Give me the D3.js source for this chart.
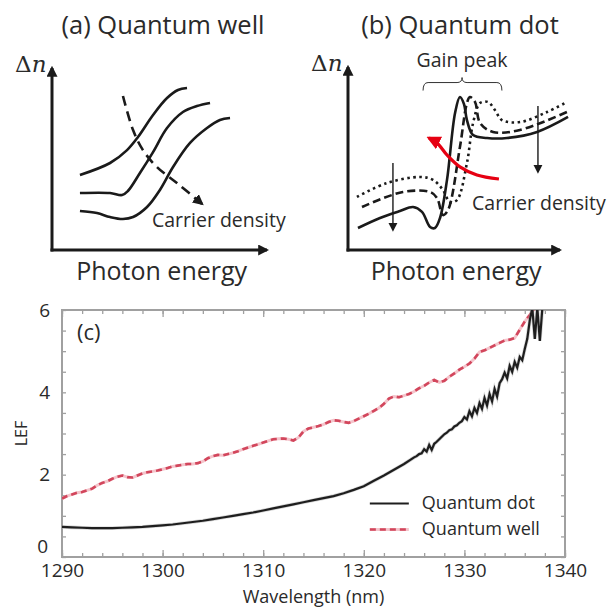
<!DOCTYPE html>
<html>
<head>
<meta charset="utf-8">
<script src="https://cdn.jsdelivr.net/npm/d3@7"></script>
<style>
  body { margin: 0; background: #fff; }
  text { font-family: "Open Sans", "Noto Sans", sans-serif; fill: #2a2a2a; }
</style>
</head>
<body>
<svg id="fig" width="612" height="609"></svg>
<script>
// ---- panel (c) data: LEF vs wavelength ----
var qdWave = [1290,1291,1292,1293,1294,1295,1296,1297,1298,1299,1300,1301,1302,1303,1304,1305,1306,1307,1308,1309,
  1310,1311,1312,1313,1314,1315,1316,1317,1318,1319,1320,1321,1322,1323,1324,1325,
  1325.25,1325.5,1325.75,1326,1326.25,1326.5,1326.75,1327,1327.25,1327.5,1327.75,1328,1328.25,1328.5,1328.75,
  1329,1329.25,1329.5,1329.75,1330,1330.25,1330.5,1330.75,1331,1331.25,1331.5,1331.75,1332,1332.25,1332.5,1332.75,
  1333,1333.25,1333.5,1333.75,1334,1334.25,1334.5,1334.75,1335,1335.25,1335.5,1335.75,1336,1336.25,1336.5,1336.75,
  1337,1337.25,1337.5,1337.75,1338];
var qdLEF = [0.73,0.72,0.71,0.70,0.70,0.70,0.71,0.72,0.73,0.75,0.77,0.79,0.82,0.85,0.88,0.92,0.96,1.00,1.04,1.08,
  1.13,1.18,1.23,1.28,1.33,1.38,1.43,1.48,1.55,1.63,1.72,1.85,1.98,2.12,2.26,2.42,
  2.45,2.50,2.52,2.62,2.56,2.72,2.60,2.75,2.80,2.86,2.92,2.98,3.02,3.08,3.10,
  3.17,3.20,3.26,3.30,3.40,3.34,3.54,3.42,3.62,3.50,3.74,3.60,3.86,3.68,3.96,3.78,
  4.08,3.90,4.22,4.32,4.48,4.34,4.64,4.50,4.74,4.60,4.86,4.78,5.05,5.30,5.75,6.05,
  5.30,6.05,5.25,6.05,6.10];

var qwWave = [1290,1290.5,1291,1291.5,1292,1292.5,1293,1293.5,1294,1294.5,1295,1295.5,1296,1296.5,1297,1297.5,
  1298,1298.5,1299,1299.5,1300,1300.5,1301,1301.5,1302,1302.5,1303,1303.5,1304,1304.5,1305,1305.5,1306,1306.5,
  1307,1307.5,1308,1308.5,1309,1309.5,1310,1310.5,1311,1311.5,1312,1312.5,1313,1313.5,1314,1314.5,1315,1315.5,
  1316,1316.5,1317,1317.5,1318,1318.5,1319,1319.5,1320,1320.5,1321,1321.5,1322,1322.5,1323,1323.5,1324,1324.5,
  1325,1325.5,1326,1326.5,1327,1327.5,1328,1328.5,1329,1329.5,1330,1330.5,1331,1331.5,1332,1332.5,1333,1333.5,
  1334,1334.5,1335,1335.5,1336,1336.5,1337];
var qwLEF = [1.42,1.48,1.52,1.56,1.58,1.62,1.66,1.74,1.80,1.84,1.90,1.95,1.98,1.94,1.93,1.98,
  2.03,2.06,2.08,2.10,2.13,2.16,2.20,2.22,2.24,2.26,2.26,2.28,2.32,2.40,2.45,2.48,2.47,2.50,
  2.53,2.57,2.62,2.66,2.70,2.74,2.78,2.82,2.86,2.87,2.88,2.86,2.83,2.90,3.05,3.12,3.15,3.18,
  3.22,3.28,3.32,3.31,3.28,3.26,3.30,3.36,3.42,3.48,3.55,3.62,3.72,3.85,3.90,3.88,3.92,3.96,
  4.02,4.10,4.16,4.24,4.30,4.24,4.28,4.38,4.46,4.55,4.62,4.70,4.82,4.98,5.02,5.08,5.14,5.20,
  5.26,5.28,5.32,5.52,5.72,5.88,6.05];

var xTicks = [1290,1300,1310,1320,1330,1340];
var yTicks = [0,2,4,6];
var legendNames = ["Quantum dot","Quantum well"];

// ---- panels (a),(b): schematic curves in relative units (0-100 along each axis) ----
var qwCurve1 = [[13,41.2],[27,47.8],[34.9,54.9],[40,62.1],[47,74.2],[53.5,83.5],[58.6,87.9],[62.8,89]];
var qwCurve2 = [[13,31.3],[27,31.3],[32.6,30.2],[35.3,32.4],[40.9,42.3],[47,53.8],[53.5,67],[60.9,75.8],[67.4,79.1],[73.5,80.8]];
var qwCurve3 = [[13,21.4],[20.9,20.3],[27,18.1],[33,17],[37.7,18.1],[44.2,23.6],[50.2,33],[56.3,45.6],[64.2,58.8],[72.1,67],[78.1,71.4],[82.8,72.5]];
var qwArrow = [[33,84.6],[37.7,65.9],[42.3,54.9],[48.8,45.6],[58.1,36.8],[69.8,25.3]];

var qdSolid = [[4.7,12],[15.1,17.5],[24.5,21.3],[30.7,23.5],[34.9,20.8],[38.7,12.6],[41,12],[43.4,17.5],[46.7,38.3],
  [50.5,74.9],[52.8,83.6],[54.7,79.8],[56.1,71],[59,62.8],[65.6,61.2],[75,61.2],[89.2,64.5],[103.8,72.7]];
var qdDashed = [[6.6,23.5],[25.9,31.7],[38.7,31.7],[42,28.4],[44.8,19.1],[47.2,21.9],[52.8,56.3],[56.1,80.3],
  [57.5,83.6],[59.9,80.9],[62.3,69.4],[68.4,64.5],[81.1,65.6],[103.3,75.4]];
var qdDotted = [[4.2,29],[18.4,36.6],[34,39.9],[40.1,38.3],[44.8,32.8],[48.1,26.2],[51.4,27.3],[56.1,47.5],
  [59,69.4],[62.3,80.3],[66,80.9],[69.3,76.5],[72.6,71],[81.1,69.9],[93.9,75.4],[103.3,80.9]];
var qdRedArrow = [[71.2,38.8],[60.8,41],[52.8,45.4],[46.7,51.9],[42,58.5],[38.2,61.2]];
var qdDownArrows = [[[21.2,47.5],[21.2,10.9]],[[89.6,78.7],[89.6,42.6]]];
var braceSpan = [35.4,53.8,72.6];

var svg = d3.select("#fig");
var defs = svg.append("defs");

function addMarker(id, color, w, h) {
  defs.append("marker")
    .attr("id", id)
    .attr("viewBox", "0 0 10 10")
    .attr("refX", 8).attr("refY", 5)
    .attr("markerWidth", w).attr("markerHeight", h)
    .attr("markerUnits", "userSpaceOnUse")
    .attr("orient", "auto")
    .append("path")
    .attr("d", "M0,0 L10,5 L0,10 Z")
    .attr("fill", color);
}
addMarker("axisHead", "#1a1a1a", 11, 11);
addMarker("thinHead", "#1a1a1a", 9, 12);
addMarker("redHead", "#e60012", 14, 14);
addMarker("dashHead", "#1a1a1a", 11, 11);

// draw one schematic panel
function schematic(cfg) {
  var g = svg.append("g");
  var x = d3.scaleLinear().domain([0, 100]).range([cfg.x0, cfg.x1]);
  var y = d3.scaleLinear().domain([0, 100]).range([cfg.y0, cfg.y1]);

  g.append("text")
    .attr("x", cfg.titleX).attr("y", 34)
    .attr("text-anchor", "middle")
    .style("font-size", "25.5px")
    .text(cfg.title);

  // axes with arrow heads
  g.append("line")
    .attr("x1", x(0)).attr("y1", y(0) + 1.5)
    .attr("x2", x(0)).attr("y2", y(100))
    .attr("stroke", "#1a1a1a").attr("stroke-width", 3)
    .attr("marker-end", "url(#axisHead)");
  g.append("line")
    .attr("x1", x(0) - 1.5).attr("y1", y(0))
    .attr("x2", x(100)).attr("y2", y(0))
    .attr("stroke", "#1a1a1a").attr("stroke-width", 3)
    .attr("marker-end", "url(#axisHead)");

  var dn = g.append("text")
    .attr("x", cfg.x0 - 37).attr("y", y(100) + 4)
    .style("font-family", "'DejaVu Serif', 'Liberation Serif', serif")
    .style("font-size", "23px");
  dn.append("tspan").text("Δ");
  dn.append("tspan").style("font-style", "italic").text("n");

  g.append("text")
    .attr("x", x(51)).attr("y", 280)
    .attr("text-anchor", "middle")
    .style("font-size", "25px")
    .text("Photon energy");

  return {g: g, x: x, y: y};
}

var lineGen = function (sc) {
  return d3.line()
    .x(function (d) { return sc.x(d[0]); })
    .y(function (d) { return sc.y(d[1]); })
    .curve(d3.curveCatmullRom.alpha(0.5));
};

// (a) quantum well
var pa = schematic({x0: 52, x1: 267, y0: 250, y1: 68, titleX: 163, title: "(a) Quantum well"});
var la = lineGen(pa);
[qwCurve1, qwCurve2, qwCurve3].forEach(function (c) {
  pa.g.append("path").attr("d", la(c))
    .attr("fill", "none").attr("stroke", "#1a1a1a").attr("stroke-width", 2.6);
});
pa.g.append("path").attr("d", la(qwArrow))
  .attr("fill", "none").attr("stroke", "#1a1a1a").attr("stroke-width", 2.6)
  .attr("stroke-dasharray", "10,6")
  .attr("marker-end", "url(#dashHead)");
pa.g.append("text")
  .attr("x", pa.x(46.5)).attr("y", pa.y(12.6))
  .style("font-size", "19.5px")
  .text("Carrier density");

// (b) quantum dot
var pb = schematic({x0: 348, x1: 560, y0: 250, y1: 67, titleX: 460, title: "(b) Quantum dot"});
var lb = lineGen(pb);
pb.g.append("path").attr("d", lb(qdDotted))
  .attr("fill", "none").attr("stroke", "#1a1a1a").attr("stroke-width", 2.6)
  .attr("stroke-dasharray", "2.5,3.5");
pb.g.append("path").attr("d", lb(qdDashed))
  .attr("fill", "none").attr("stroke", "#1a1a1a").attr("stroke-width", 2.6)
  .attr("stroke-dasharray", "8,4");
pb.g.append("path").attr("d", lb(qdSolid))
  .attr("fill", "none").attr("stroke", "#1a1a1a").attr("stroke-width", 2.6);
qdDownArrows.forEach(function (a) {
  pb.g.append("line")
    .attr("x1", pb.x(a[0][0])).attr("y1", pb.y(a[0][1]))
    .attr("x2", pb.x(a[1][0])).attr("y2", pb.y(a[1][1]))
    .attr("stroke", "#1a1a1a").attr("stroke-width", 1.4)
    .attr("marker-end", "url(#thinHead)");
});
pb.g.append("path").attr("d", lb(qdRedArrow))
  .attr("fill", "none").attr("stroke", "#e60012").attr("stroke-width", 3.2)
  .attr("marker-end", "url(#redHead)");
pb.g.append("text")
  .attr("x", pb.x(58.5)).attr("y", pb.y(21.9))
  .style("font-size", "19.5px")
  .text("Carrier density");
pb.g.append("text")
  .attr("x", pb.x(braceSpan[1])).attr("y", pb.y(100))
  .attr("text-anchor", "middle")
  .style("font-size", "19.5px")
  .text("Gain peak");
// curly brace over the peak
var bl = pb.x(braceSpan[0]), bm = pb.x(braceSpan[1]), br = pb.x(braceSpan[2]);
var by = pb.y(91.5);
var bp = d3.path();
bp.moveTo(bl, by + 8);
bp.quadraticCurveTo(bl, by, bl + 5, by);
bp.lineTo(bm - 5, by);
bp.quadraticCurveTo(bm, by, bm, by - 5);
bp.quadraticCurveTo(bm, by, bm + 5, by);
bp.lineTo(br - 5, by);
bp.quadraticCurveTo(br, by, br, by + 8);
pb.g.append("path").attr("d", bp.toString())
  .attr("fill", "none").attr("stroke", "#333").attr("stroke-width", 1);

// ---- (c) LEF chart ----
var margin = {top: 310, right: 47, bottom: 52, left: 62},
    width = 612 - margin.left - margin.right,
    height = 609 - margin.top - margin.bottom;

var gc = svg.append("g")
  .attr("transform", "translate(" + margin.left + "," + margin.top + ")");

var x = d3.scaleLinear().domain([1290, 1340]).range([0, width]);
var y = d3.scaleLinear().domain([0, 6]).range([height, 0]);

defs.append("clipPath").attr("id", "plotClip")
  .append("rect").attr("x", 0).attr("y", 0).attr("width", width).attr("height", height);

var frameColor = "#a0a0a0";
// inward ticks on all four sides
function tickAxis(axisFn, scale, vals, len, transform) {
  var a = gc.append("g").attr("transform", transform)
    .call(axisFn(scale).tickValues(vals).tickSize(len).tickFormat(""));
  a.select(".domain").remove();
  a.selectAll(".tick line").attr("stroke", frameColor).attr("stroke-width", 1.3);
}
var xMinor = d3.range(1290, 1340.1, 2);
var yMinor = d3.range(0, 6.01, 0.5);
tickAxis(d3.axisTop, x, xMinor, 4, "translate(0," + height + ")");
tickAxis(d3.axisTop, x, xTicks, 7, "translate(0," + height + ")");
tickAxis(d3.axisBottom, x, xMinor, 4, "translate(0,0)");
tickAxis(d3.axisBottom, x, xTicks, 7, "translate(0,0)");
tickAxis(d3.axisRight, y, yMinor, 4, "translate(0,0)");
tickAxis(d3.axisLeft, y, yMinor, 4, "translate(" + width + ",0)");

gc.append("rect")
  .attr("width", width).attr("height", height)
  .attr("fill", "none").attr("stroke", frameColor).attr("stroke-width", 2);

// tick labels
var xAxis = gc.append("g")
  .attr("transform", "translate(0," + height + ")")
  .call(d3.axisBottom(x).tickValues(xTicks).tickSize(0).tickPadding(7).tickFormat(d3.format("d")));
xAxis.select(".domain").remove();
xAxis.selectAll("text").style("font-size", "19px").attr("fill", "#2a2a2a")
  .style("font-family", "'Open Sans', 'Noto Sans', sans-serif");

var yAxis = gc.append("g")
  .call(d3.axisLeft(y).tickValues(yTicks).tickSize(0).tickPadding(12).tickFormat(d3.format("d")));
yAxis.select(".domain").remove();
yAxis.selectAll("text").style("font-size", "19px").attr("fill", "#2a2a2a")
  .style("font-family", "'Open Sans', 'Noto Sans', sans-serif");
// the zero label sits a little higher so it clears the wavelength labels
yAxis.selectAll(".tick").filter(function (d) { return d === 0; })
  .select("text").attr("dy", "-0.22em").attr("dx", "-2");

gc.append("text")
  .attr("x", width / 2).attr("y", height + 46)
  .attr("text-anchor", "middle")
  .style("font-size", "18px")
  .text("Wavelength (nm)");

gc.append("text")
  .attr("transform", "translate(" + (-35) + "," + y(3) + ") rotate(-90)")
  .attr("text-anchor", "middle")
  .style("font-size", "16px")
  .text("LEF");

gc.append("text")
  .attr("x", 15).attr("y", 30)
  .style("font-size", "22px")
  .text("(c)");

var plot = gc.append("g").attr("clip-path", "url(#plotClip)");
var qdPts = qdWave.map(function (w, i) { return [w, qdLEF[i]]; });
var qwPts = qwWave.map(function (w, i) { return [w, qwLEF[i]]; });
var dataLine = d3.line()
  .x(function (d) { return x(d[0]); })
  .y(function (d) { return y(d[1]); });

plot.append("path").attr("d", dataLine(qwPts))
  .attr("fill", "none").attr("stroke", "#f4c4cb").attr("stroke-width", 3);
plot.append("path").attr("d", dataLine(qwPts))
  .attr("fill", "none").attr("stroke", "#d2465c").attr("stroke-width", 2.6)
  .attr("stroke-dasharray", "6,4");
plot.append("path").attr("d", dataLine(qdPts))
  .attr("fill", "none").attr("stroke", "#aaa").attr("stroke-width", 3.6).attr("opacity", 0.5);
plot.append("path").attr("d", dataLine(qdPts))
  .attr("fill", "none").attr("stroke", "#1e1e1e").attr("stroke-width", 2.2);

// legend
var legend = gc.append("g").attr("transform", "translate(" + x(1320.6) + "," + y(1.3) + ")");
legendNames.forEach(function (name, i) {
  var row = legend.append("g").attr("transform", "translate(0," + (i * 26) + ")");
  if (i === 0) {
    row.append("line").attr("x1", 0).attr("x2", 39).attr("y1", 0).attr("y2", 0)
      .attr("stroke", "#1e1e1e").attr("stroke-width", 2.2);
  } else {
    row.append("line").attr("x1", 0).attr("x2", 39).attr("y1", 0).attr("y2", 0)
      .attr("stroke", "#f4c4cb").attr("stroke-width", 3);
    row.append("line").attr("x1", 0).attr("x2", 39).attr("y1", 0).attr("y2", 0)
      .attr("stroke", "#d2465c").attr("stroke-width", 2.6).attr("stroke-dasharray", "6,4");
  }
  row.append("text").attr("x", 52).attr("y", 6)
    .style("font-size", "18px")
    .text(name);
});
</script>
</body>
</html>
